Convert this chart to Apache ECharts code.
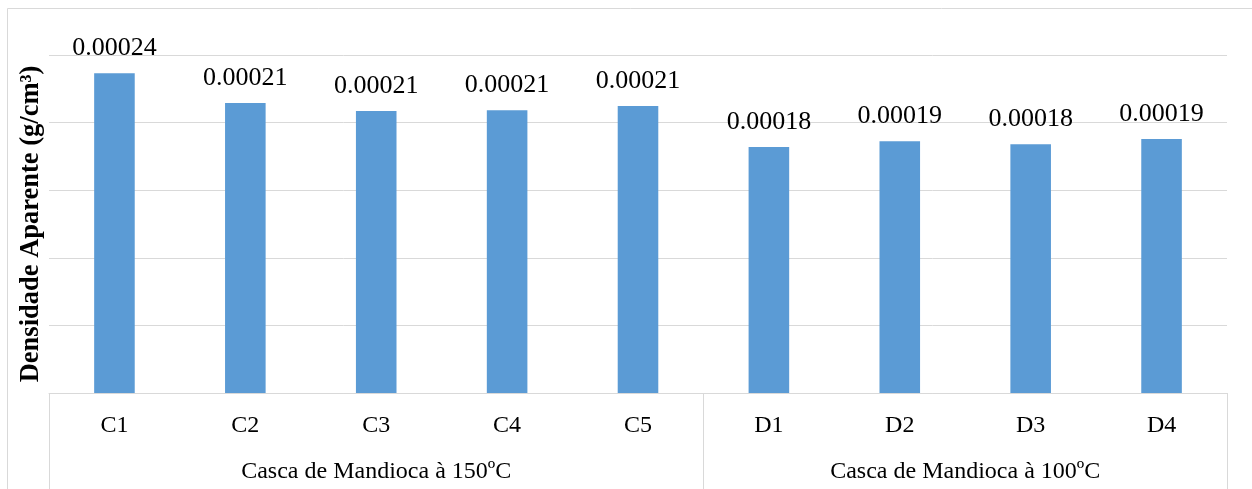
<!DOCTYPE html>
<html>
<head>
<meta charset="utf-8">
<script src="https://cdn.jsdelivr.net/npm/echarts@6/dist/echarts.min.js"></script>
<style>
  html, body { margin: 0; padding: 0; background: #fff; }
  #main { width: 1252px; height: 489px; }
</style>
</head>
<body>
<div id="main"></div>
<script>
// amostras e grupos
let categories = ['C1', 'C2', 'C3', 'C4', 'C5', 'D1', 'D2', 'D3', 'D4'];
let densidade = [0.0002365, 0.0002145, 0.0002086, 0.0002091, 0.0002123, 0.0001820, 0.0001862, 0.0001840, 0.0001879];
let groupNames = ['Casca de Mandioca à 150ºC', 'Casca de Mandioca à 100ºC'];
let groupCenters = [2, 6.5];       // centro de cada grupo, em índice de categoria
let groupEdges = [-0.5, 4.5, 8.5]; // separadores dos grupos

let serif = '"Liberation Serif", "Times New Roman", serif';
let gridColor = '#d9d9d9';

let chart = echarts.init(document.getElementById('main'));

chart.setOption({
    animation: false,
    backgroundColor: '#fff',
    grid: {
        left: 49,
        right: 25,
        top: 55,
        bottom: 96,
        outerBoundsMode: 'none'
    },
    graphic: [{
        type: 'rect',
        shape: { x: 7.5, y: 8.5, width: 1260, height: 520 },
        style: { fill: 'none', stroke: gridColor, lineWidth: 1 },
        silent: true,
        z: -1
    }],
    xAxis: [{
        type: 'category',
        data: categories,
        position: 'bottom',
        axisLine: { lineStyle: { color: gridColor, width: 1 } },
        axisTick: { show: false },
        axisLabel: {
            fontFamily: serif,
            fontSize: 24,
            color: '#000',
            margin: 21
        }
    }, {
        // segundo nível do eixo: nomes dos grupos
        type: 'value',
        min: -0.5,
        max: 8.5,
        position: 'bottom',
        axisLine: { show: false },
        splitLine: { show: false },
        axisTick: {
            show: true,
            customValues: groupEdges,
            length: 100,
            lineStyle: { color: gridColor, width: 1 }
        },
        axisLabel: {
            customValues: groupCenters,
            fontFamily: serif,
            fontSize: 24,
            color: '#000',
            margin: 67,
            formatter: function (value) {
                return groupNames[groupCenters.indexOf(value)];
            }
        }
    }],
    yAxis: {
        type: 'value',
        min: 0,
        max: 0.00025,
        interval: 0.00005,
        name: 'Densidade Aparente (g/cm³)',
        nameLocation: 'middle',
        nameGap: 4,
        nameTextStyle: {
            fontFamily: serif,
            fontSize: 26.5,
            fontWeight: 'bold',
            color: '#000'
        },
        axisLine: { show: false },
        axisTick: { show: false },
        axisLabel: { show: false },
        splitLine: { lineStyle: { color: gridColor, width: 1 } }
    },
    series: [{
        type: 'bar',
        xAxisIndex: 0,
        data: densidade,
        barWidth: '31%',
        itemStyle: { color: '#5b9bd5' },
        label: {
            show: true,
            position: 'top',
            distance: 12,
            fontFamily: serif,
            fontSize: 26,
            color: '#000',
            formatter: function (p) {
                return p.value.toFixed(5);
            }
        }
    }]
});
</script>
</body>
</html>
